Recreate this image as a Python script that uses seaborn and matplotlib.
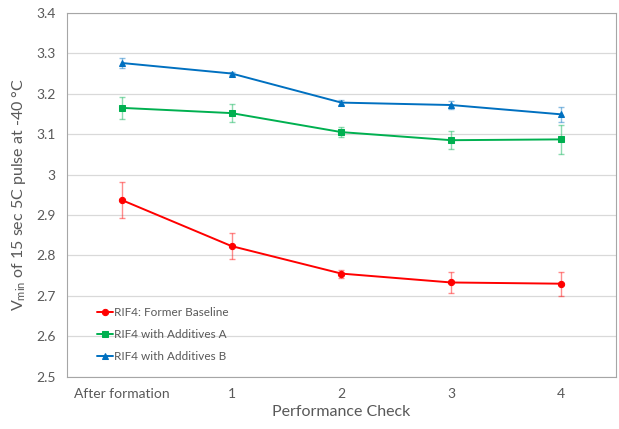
import numpy as np
import pandas as pd
import matplotlib.pyplot as plt
import seaborn as sns

# ── data ──────────────────────────────────────────────────────────────────────
checks = ["After formation", "1", "2", "3", "4"]

baseline = [2.937, 2.823, 2.755, 2.733, 2.730]
baseline_err = [0.045, 0.033, 0.010, 0.027, 0.030]

additives_a = [3.165, 3.152, 3.105, 3.085, 3.087]
additives_a_err = [0.027, 0.022, 0.012, 0.022, 0.035]

additives_b = [3.276, 3.250, 3.178, 3.172, 3.149]
additives_b_err = [0.013, 0.004, 0.007, 0.010, 0.018]

series = [
    ("RIF4: Former Baseline", baseline, baseline_err, "#FF0000", "o"),
    ("RIF4 with Additives A", additives_a, additives_a_err, "#00B050", "s"),
    ("RIF4 with Additives B", additives_b, additives_b_err, "#0070C0", "^"),
]

# ── style ─────────────────────────────────────────────────────────────────────
sns.set_style("white")
plt.rcParams["font.family"] = ["Lato", "DejaVu Sans"]
plt.rcParams["mathtext.fontset"] = "custom"
plt.rcParams["mathtext.rm"] = "Lato"
plt.rcParams["mathtext.it"] = "Lato:italic"
text_grey = "#595959"

fig, ax = plt.subplots(figsize=(6.19, 4.29), dpi=100)
fig.subplots_adjust(left=0.108, right=0.995, top=0.97, bottom=0.122)

for name, vals, errs, color, marker in series:
    df = pd.DataFrame({"check": checks, "v": vals})
    ax.errorbar(checks, vals, yerr=errs, fmt="none", ecolor=color,
                alpha=0.45, elinewidth=1.0, capsize=2, capthick=1.0, zorder=2)
    sns.lineplot(data=df, x="check", y="v", ax=ax, color=color, marker=marker,
                 markersize=4.5, markeredgecolor=color, linewidth=1.4,
                 label=name, sort=False, zorder=3)

ax.set_xlim(-0.5, 4.5)
ax.set_ylim(2.5, 3.4)
ax.set_yticks(np.arange(2.5, 3.41, 0.1))
ax.set_yticklabels(["2.5", "2.6", "2.7", "2.8", "2.9", "3", "3.1", "3.2", "3.3", "3.4"])
ax.yaxis.grid(True, color="#d9d9d9", linewidth=0.9)
ax.set_axisbelow(True)
for s in ax.spines.values():
    s.set_color("#a6a6a6")
    s.set_linewidth(0.8)
ax.tick_params(axis="both", length=0, labelsize=10, labelcolor=text_grey, pad=8)

ax.set_xlabel("Performance Check", fontsize=11.5, color=text_grey, labelpad=4)
ax.set_ylabel("V$_{\\mathrm{min}}$ of 15 sec 5C pulse at -40 °C",
              fontsize=11.5, color=text_grey, labelpad=6)

leg = ax.legend(loc="lower left", bbox_to_anchor=(0.035, 0.01), frameon=False,
                fontsize=8.5, handlelength=1.4, handletextpad=0.1,
                labelspacing=0.95, labelcolor=text_grey)

fig.savefig("out.png", dpi=100)
plt.close()
